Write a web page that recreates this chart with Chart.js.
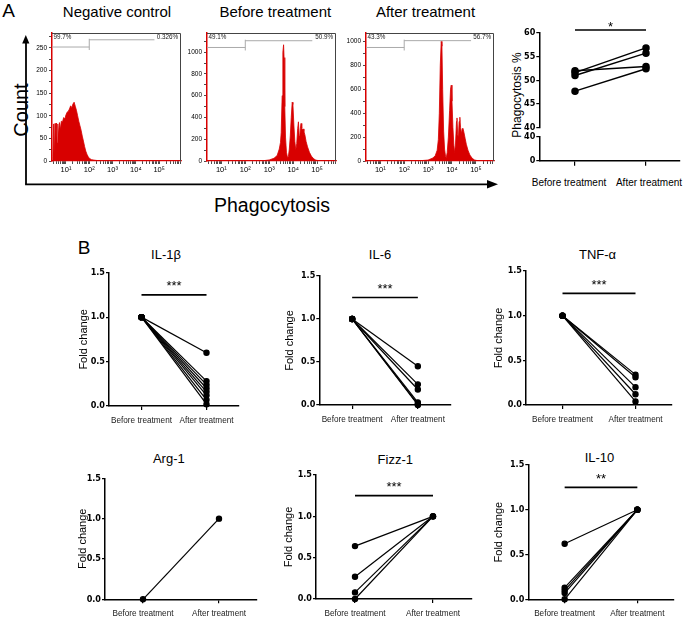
<!DOCTYPE html>
<html lang="en">
<head>
<meta charset="UTF-8">
<title>Phagocytosis and cytokine expression</title>
<script src="https://cdn.jsdelivr.net/npm/chart.js"></script>
<style>
  body { margin: 0; background: #fff; font-family: 'Liberation Sans', Arial, sans-serif; }
  #fig { position: relative; width: 685px; height: 619px; overflow: hidden; }
  #fig canvas { position: absolute; }
  .t { position: absolute; transform: translate(-50%, -50%); white-space: nowrap; line-height: 1; color: #000; }
  .t.rot { transform: translate(-50%, -50%) rotate(-90deg); }
  svg { position: absolute; left: 0; top: 0; }
</style>
</head>
<body>
<div id="fig">
  <svg width="685" height="619">
    <line x1="26" y1="184.3" x2="26" y2="42" stroke="#000" stroke-width="1.8"/>
    <polygon points="25.8,35 22.2,43.5 29.4,43.5" fill="#000"/>
    <line x1="25.1" y1="184.3" x2="489" y2="184.3" stroke="#000" stroke-width="1.8"/>
    <polygon points="498,184.3 487,180 487,188.6" fill="#000"/>
  </svg>
  <div class="t" style="left:8.5px;top:9.5px;font-size:19px">A</div>
  <div class="t rot" style="left:20.5px;top:109.5px;font-size:20px">Count</div>
  <div class="t" style="left:272px;top:206px;font-size:19.5px">Phagocytosis</div>
  <div class="t rot" style="left:516.7px;top:95px;font-size:12px">Phagocytosis %</div>
  <div class="t" style="left:84px;top:246.5px;font-size:19px">B</div>
</div>
<script>
// ---------- data: panel A histograms (x = log10 fluorescence, y = cell count)
const histTitles = ['Negative control', 'Before treatment', 'After treatment'];

const negLog = [0.40, 0.44, 0.47, 0.50, 0.53, 0.56, 0.59, 0.62, 0.65, 0.68, 0.72, 0.76, 0.80, 0.85, 0.90,
  0.95, 1.00, 1.05, 1.10, 1.15, 1.20, 1.25, 1.30, 1.35, 1.40, 1.45, 1.50, 1.55, 1.60, 1.65,
  1.70, 1.75, 1.80, 1.85, 1.90, 1.95, 2.00, 2.10, 2.20, 2.35, 2.60, 3.00, 5.94];
const negCount = [0, 10, 82, 15, 83, 30, 84, 40, 82, 55, 85, 70, 88, 86, 96,
  93, 102, 108, 110, 115, 122, 118, 126, 130, 121, 112, 100, 88, 78, 68,
  55, 44, 32, 22, 15, 10, 6, 3, 2, 1, 0.5, 0, 0];

const befLog = [0.40, 2.50, 2.80, 3.00, 3.20, 3.33, 3.42, 3.47, 3.50, 3.54, 3.57, 3.60, 3.62, 3.65, 3.68,
  3.72, 3.76, 3.80, 3.84, 3.88, 3.92, 3.96, 3.99, 4.03, 4.07, 4.11, 4.15, 4.19, 4.22, 4.25,
  4.27, 4.30, 4.33, 4.36, 4.39, 4.42, 4.45, 4.49, 4.54, 4.60, 4.68, 4.76, 4.86, 4.95, 5.10, 5.30, 5.79];
const befCount = [0, 0, 4, 10, 25, 50, 110, 170, 260, 600, 1000, 1068, 950, 500, 220,
  80, 35, 40, 110, 230, 400, 540, 520, 330, 180, 100, 160, 300, 360, 230,
  200, 300, 345, 300, 285, 295, 270, 240, 180, 130, 80, 45, 20, 8, 2, 0, 0];

const aftLog = [0.40, 2.50, 2.70, 3.00, 3.20, 3.30, 3.38, 3.43, 3.47, 3.51, 3.55, 3.58, 3.61, 3.65, 3.69,
  3.73, 3.76, 3.80, 3.85, 3.90, 3.94, 3.97, 4.00, 4.04, 4.08, 4.11, 4.15, 4.19, 4.21, 4.24,
  4.27, 4.30, 4.33, 4.36, 4.40, 4.43, 4.46, 4.50, 4.55, 4.60, 4.67, 4.75, 4.85, 4.95, 5.10, 5.30, 5.76];
const aftCount = [0, 0, 3, 8, 25, 45, 90, 180, 400, 800, 1000, 960, 600, 250, 100,
  40, 28, 70, 200, 420, 600, 634, 500, 280, 130, 70, 150, 330, 360, 220,
  200, 330, 366, 280, 230, 270, 273, 240, 190, 140, 90, 50, 22, 8, 2, 0, 0];

const histXMax = [5.94, 5.79, 5.76];
const histYMax = [283, 1176, 1070];
const histYTicks = [[0, 50, 100, 150, 200, 250], [0, 200, 400, 600, 800, 1000], [0, 200, 400, 600, 800, 1000]];
const decadeTicks = [1, 2, 3, 4, 5];
const decadeLabels = ['10¹', '10²', '10³', '10⁴', '10⁵'];
const gateLeftPct = ['99.7%', '49.1%', '43.3%'];
const gateRightPct = ['0.326%', '50.9%', '56.7%'];
const gateLowY = [252, 1043, 949];
const gateHighY = [268, 1105, 1006];

// ---------- data: panel A phagocytosis %
const groups = ['Before treatment', 'After treatment'];
const phagoBefore = [52.0, 51.6, 51.0, 47.7];
const phagoAfter = [52.9, 56.8, 55.7, 52.4];
const phagoHighTicks = [40, 45, 50, 55, 60];
const phagoLowTicks = [0, 20, 40];

// ---------- data: panel B fold change
const il1bBefore = [1, 1, 1, 1, 1, 1, 1, 1];
const il1bAfter = [0.60, 0.28, 0.24, 0.20, 0.16, 0.12, 0.07, 0.02];
const il6Before = [1, 1, 1, 1, 1, 1];
const il6After = [0.45, 0.24, 0.18, 0.03, 0.01, 0.0];
const tnfBefore = [1, 1, 1, 1, 1];
const tnfAfter = [0.34, 0.31, 0.20, 0.12, 0.04];
const arg1Before = [0];
const arg1After = [1];
const fizz1Before = [0.64, 0.27, 0.08, 0.0];
const fizz1After = [1, 1, 1, 1];
const il10Before = [0.62, 0.13, 0.10, 0.07, 0.0];
const il10After = [1, 1, 1, 1, 1];
const foldTicks = [0, 0.5, 1, 1.5];

// ---------- layout
const RED = '#d80000';
const FONT = "'Liberation Sans', Arial, sans-serif";
const tickFont = { family: "'Liberation Sans Narrow', 'DejaVu Sans Condensed', 'Liberation Sans', sans-serif", size: 9, weight: 'bold' };

Chart.defaults.font.family = FONT;
Chart.defaults.color = '#000';
Chart.defaults.animation = false;
Chart.defaults.plugins.legend.display = false;
Chart.defaults.plugins.tooltip.enabled = false;
Chart.defaults.elements.line.tension = 0;

const fig = document.getElementById('fig');

function addCanvas(box) {
  const cv = document.createElement('canvas');
  cv.width = box[2] - box[0];
  cv.height = box[3] - box[1];
  cv.style.left = box[0] + 'px';
  cv.style.top = box[1] + 'px';
  fig.appendChild(cv);
  return cv;
}

function addText(txt, cx, cy, size) {
  const d = document.createElement('div');
  d.className = 't';
  d.textContent = txt;
  d.style.left = cx + 'px';
  d.style.top = cy + 'px';
  d.style.fontSize = size + 'px';
  fig.appendChild(d);
}

// padding so that the chart area lands on `area` inside canvas `box`
function pad(area, box, yW, xH) {
  return { left: area[0] - box[0] - yW, top: area[1] - box[1], right: box[2] - area[2], bottom: box[3] - area[3] - xH };
}

const frameBox = {
  id: 'frameBox',
  afterDraw(chart) {
    const { ctx, chartArea: a } = chart;
    ctx.save();
    ctx.strokeStyle = '#444';
    ctx.lineWidth = 1;
    ctx.beginPath();
    ctx.moveTo(a.left, a.top + 0.5);
    ctx.lineTo(a.right - 0.5, a.top + 0.5);
    ctx.lineTo(a.right - 0.5, a.bottom);
    ctx.stroke();
    ctx.restore();
  }
};

const gates = {
  id: 'gates',
  afterDatasetsDraw(chart, args, o) {
    const { ctx, chartArea: a, scales: { x, y } } = chart;
    const xs = x.getPixelForValue(o.split), xe = x.getPixelForValue(o.end);
    const yl = y.getPixelForValue(o.low), yh = y.getPixelForValue(o.high);
    ctx.save();
    ctx.strokeStyle = '#aaa';
    ctx.lineWidth = 1;
    ctx.beginPath();
    ctx.moveTo(a.left, yl); ctx.lineTo(xs, yl);
    ctx.moveTo(xs, yh); ctx.lineTo(xe, yh);
    ctx.moveTo(xs, yh - 1); ctx.lineTo(xs, yl + 3);
    ctx.stroke();
    ctx.fillStyle = '#222';
    ctx.font = '6.3px ' + FONT;
    ctx.textBaseline = 'middle';
    ctx.textAlign = 'left';
    ctx.fillText(o.left, a.left + 1.5, a.top + 4);
    ctx.textAlign = 'right';
    ctx.fillText(o.right, a.right - 3, a.top + 4);
    ctx.restore();
  }
};

const sigBar = {
  id: 'sigBar',
  afterDatasetsDraw(chart, args, o) {
    if (!o.text) return;
    const { ctx, scales } = chart;
    const x0 = scales.x.getPixelForValue(0), x1 = scales.x.getPixelForValue(1);
    const y = scales[o.axis].getPixelForValue(o.y);
    ctx.save();
    ctx.strokeStyle = '#000';
    ctx.lineWidth = 1.6;
    ctx.beginPath(); ctx.moveTo(x0, y); ctx.lineTo(x1, y); ctx.stroke();
    ctx.fillStyle = '#000';
    ctx.font = '13px ' + FONT;
    ctx.textAlign = 'center';
    ctx.textBaseline = 'alphabetic';
    ctx.fillText(o.text, (x0 + x1) / 2, y + o.dy);
    ctx.restore();
  }
};

// ---------- panel A: histograms
const histAreas = [[52, 33, 181, 161], [207, 33, 336, 161], [366, 33, 494, 161]];
const histTitleX = [117, 275.3, 425.5];
const histLogs = [negLog, befLog, aftLog];
const histCounts = [negCount, befCount, aftCount];

histAreas.forEach((area, i) => {
  addText(histTitles[i], histTitleX[i], 10.5, 15);
  const box = [area[0] - 30, 26, area[2] + 6, 182];
  const yW = 24, xH = 16;
  const yStep = (histYTicks[i][1] - histYTicks[i][0]) / 2;
  new Chart(addCanvas(box), {
    type: 'line',
    data: {
      datasets: [{
        data: histLogs[i].map((x, k) => ({ x, y: histCounts[i][k] })),
        fill: 'origin', borderColor: RED, backgroundColor: RED, borderWidth: 0.8, pointRadius: 0
      }]
    },
    options: {
      responsive: false,
      layout: { padding: pad(area, box, yW, xH) },
      scales: {
        x: {
          type: 'linear', min: 0.4, max: histXMax[i],
          afterBuildTicks: s => {
            const t = [];
            for (let d = 0; d <= 5; d++) {
              for (let m = 1; m <= 9; m++) {
                const v = d + Math.log10(m);
                if (v >= s.min && v <= s.max) t.push({ value: v });
              }
            }
            s.ticks = t;
          },
          afterFit: s => { s.height = xH; },
          ticks: {
            autoSkip: false, maxRotation: 0, padding: 1, font: { size: 7.5 },
            callback: v => { const k = decadeTicks.indexOf(v); return k < 0 ? '' : decadeLabels[k]; }
          },
          grid: { drawOnChartArea: false, tickLength: 3, color: '#000', lineWidth: 0.7 },
          border: { color: RED, width: 1.2 }
        },
        y: {
          min: 0, max: histYMax[i],
          afterBuildTicks: s => {
            const t = [];
            for (let v = 0; v <= s.max; v += yStep) t.push({ value: v });
            s.ticks = t;
          },
          afterFit: s => { s.width = yW; },
          ticks: { padding: 2, font: { size: 6.5 }, callback: v => histYTicks[i].includes(v) ? String(v) : '' },
          grid: { drawOnChartArea: false, tickLength: 3, color: '#000', lineWidth: 0.7 },
          border: { color: RED, width: 1.5 }
        }
      },
      plugins: {
        gates: { split: 2, end: 4.8, low: gateLowY[i], high: gateHighY[i], left: gateLeftPct[i], right: gateRightPct[i] }
      }
    },
    plugins: [frameBox, gates]
  });
});

// ---------- panel A: phagocytosis % (broken y axis)
function phAxis(weight, min, max, ticks) {
  return {
    type: 'linear', position: 'left', stack: 'phago', stackWeight: weight, min, max,
    afterBuildTicks: s => { s.ticks = ticks.map(v => ({ value: v })); },
    afterFit: s => { s.width = 26; },
    ticks: { font: tickFont, padding: 1 },
    grid: { drawOnChartArea: false, tickLength: 3, color: '#000', lineWidth: 1.2 },
    border: { color: '#000', width: 1.5 }
  };
}
{
  const area = [539.3, 32.7, 680, 160.7];
  const box = [505, 16, 697, 200];
  // group labels sit a little off the tick marks in the reference, so they are placed as text
  addText(groups[0], 569, 183, 10);
  addText(groups[1], 649, 183, 10);
  new Chart(addCanvas(box), {
    type: 'line',
    data: {
      datasets: phagoBefore.map((v, i) => ({
        data: [{ x: 0, y: v }, { x: 1, y: phagoAfter[i] }],
        yAxisID: 'yHigh', borderColor: '#000', borderWidth: 1.5,
        pointRadius: 3, pointBackgroundColor: '#000', pointBorderColor: '#000', clip: false
      }))
    },
    options: {
      responsive: false,
      layout: { padding: pad(area, box, 26, 30) },
      scales: {
        x: {
          type: 'linear', min: -0.503, max: 1.479,
          afterBuildTicks: s => { s.ticks = [{ value: 0 }, { value: 1 }]; },
          afterFit: s => { s.height = 30; },
          ticks: { autoSkip: false, maxRotation: 0, padding: 11, font: { size: 10 }, callback: () => '' },
          grid: { drawOnChartArea: false, tickLength: 5, color: '#000', lineWidth: 1.2 },
          border: { color: '#000', width: 1.5 }
        },
        yLow: phAxis(24, 0, 40, phagoLowTicks),
        yGap: {
          type: 'linear', position: 'left', stack: 'phago', stackWeight: 9,
          afterFit: s => { s.width = 26; },
          ticks: { display: false }, grid: { display: false }, border: { display: false }
        },
        yHigh: phAxis(95, 40, 60, phagoHighTicks)
      },
      plugins: { sigBar: { text: '*', axis: 'yHigh', y: 60.57, dy: 1.5 } }
    },
    plugins: [sigBar]
  });
}

// ---------- panel B: fold change
const cytoPanels = [
  { title: 'IL-1β', before: il1bBefore, after: il1bAfter, sig: '***', area: [109, 272.7, 239, 406], labelX: 84, tx: 166, ty: 254 },
  { title: 'IL-6', before: il6Before, after: il6After, sig: '***', area: [319.3, 276, 450.7, 405], labelX: 290, tx: 380, ty: 254 },
  { title: 'TNF-α', before: tnfBefore, after: tnfAfter, sig: '***', area: [526, 271, 672, 405], labelX: 499, tx: 597.5, ty: 254 },
  { title: 'Arg-1', before: arg1Before, after: arg1After, sig: '', area: [105, 478.3, 257, 599.3], labelX: 82.7, tx: 168.8, ty: 458 },
  { title: 'Fizz-1', before: fizz1Before, after: fizz1After, sig: '***', area: [316, 475, 472, 599], labelX: 289.3, tx: 395.3, ty: 458.5 },
  { title: 'IL-10', before: il10Before, after: il10After, sig: '**', area: [528.3, 465, 673.7, 599.3], labelX: 499, tx: 599.5, ty: 457 }
];

cytoPanels.forEach(c => {
  addText(c.title, c.tx, c.ty, 13);
  const a = c.area;
  const box = [Math.round(c.labelX - 12), Math.round(a[1] - 14), Math.round(a[2] + 12), Math.round(a[3] + 26)];
  const yW = a[0] - c.labelX + 8, xH = 24;
  new Chart(addCanvas(box), {
    type: 'line',
    data: {
      datasets: c.before.map((v, i) => ({
        data: [{ x: 0, y: v }, { x: 1, y: c.after[i] }],
        borderColor: '#000', borderWidth: 1.2,
        pointRadius: 2.6, pointBackgroundColor: '#000', pointBorderColor: '#000', clip: false
      }))
    },
    options: {
      responsive: false,
      layout: { padding: pad(a, box, yW, xH) },
      scales: {
        x: {
          type: 'linear', min: -0.5, max: 1.5,
          afterBuildTicks: s => { s.ticks = [{ value: 0 }, { value: 1 }]; },
          afterFit: s => { s.height = xH; },
          ticks: { autoSkip: false, maxRotation: 0, padding: 6, font: { size: 8.2 }, color: '#222', callback: v => groups[v] },
          grid: { drawOnChartArea: false, tickLength: 4, color: '#000', lineWidth: 1.2 },
          border: { color: '#000', width: 1.5 }
        },
        y: {
          min: 0, max: 1.5,
          afterBuildTicks: s => { s.ticks = foldTicks.map(v => ({ value: v })); },
          afterFit: s => { s.width = yW; },
          ticks: { font: tickFont, padding: 1, callback: v => v.toFixed(1) },
          grid: { drawOnChartArea: false, tickLength: 3, color: '#000', lineWidth: 1.2 },
          border: { color: '#000', width: 1.5 },
          title: { display: true, text: 'Fold change', font: { size: 11 }, padding: { top: 1.4, bottom: 0 } }
        }
      },
      plugins: { sigBar: { text: c.sig, axis: 'y', y: 1.25, dy: -4.5 } }
    },
    plugins: [sigBar]
  });
});
</script>
</body>
</html>
